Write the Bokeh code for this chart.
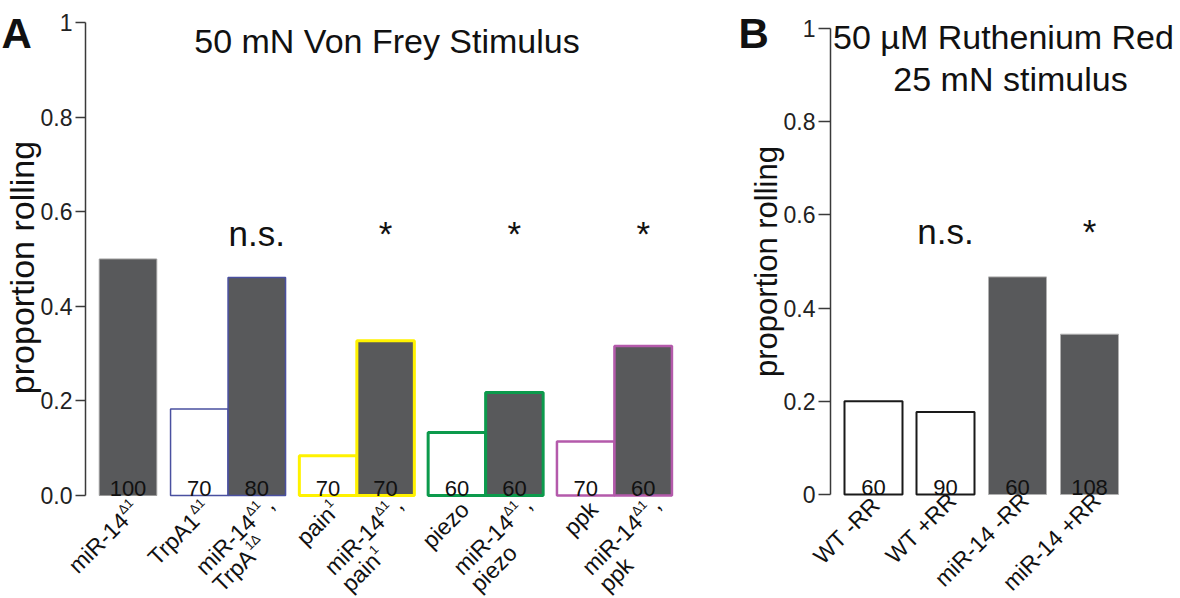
import math
from bokeh.plotting import figure
from bokeh.layouts import row
from bokeh.models import Range1d, FixedTicker, Label, LinearAxis
from bokeh.embed import file_html
from bokeh.resources import INLINE
from bokeh.core.properties import value

FONT = "Liberation Sans"
DARK = "#58595b"
INK = "#111111"

# ---------------- Panel A data ----------------
a_groups = [1, 2, 2, 2, 2]
a_values = [0.500, 0.183, 0.461, 0.084, 0.327, 0.133, 0.218, 0.114, 0.316]
a_counts = ["100", "70", "80", "70", "70", "60", "60", "70", "60"]
a_sig = ["", "", "n.s.", "", "*", "", "*", "", "*"]
# label lines: list of (text, is_superscript)
a_labels = [
    [[("miR-14", 0), ("Δ1", 1)]],
    [[("TrpA1", 0), ("Δ1", 1)]],
    [[("miR-14", 0), ("Δ1", 1), (",", 0)], [("TrpA", 0), ("1Δ", 1)]],
    [[("pain", 0), ("1", 1)]],
    [[("miR-14", 0), ("Δ1", 1), (",", 0)], [("pain", 0), ("1", 1)]],
    [[("piezo", 0)]],
    [[("miR-14", 0), ("Δ1", 1), (",", 0)], [("piezo", 0)]],
    [[("ppk", 0)]],
    [[("miR-14", 0), ("Δ1", 1), (",", 0)], [("ppk", 0)]],
]
a_title = "50 mN Von Frey Stimulus"
y_title = "proportion rolling"

# styles (panel A)
a_fill = [DARK, "white", DARK, "white", DARK, "white", DARK, "white", DARK]
a_edge = ["#9a9a9a", "#4a50a0", "#4a50a0", "#fff200", "#fff200",
          "#0c9a4c", "#0c9a4c", "#b45aab", "#b45aab"]
a_edge_w = [1, 1.5, 1.5, 3, 3, 3, 3, 2.5, 2.5]

# ---------------- Panel B data ----------------
b_labels = ["WT  -RR", "WT +RR", "miR-14 -RR", "miR-14 +RR"]
b_values = [0.200, 0.177, 0.467, 0.344]
b_counts = ["60", "90", "60", "108"]
b_sig = ["", "n.s.", "", "*"]
b_title1 = "50 µM Ruthenium Red"
b_title2 = "25 mN stimulus"

b_fill = ["white", "white", DARK, DARK]
b_edge = ["#1a1a1a", "#1a1a1a", "#b0b0b0", "#b0b0b0"]
b_edge_w = [2, 2, 1, 1]

# ---------------- layout constants (pixels) ----------------
H = 598
A_W, B_W = 735, 445
A_PXX, A_PXY = 57.5, 473.0     # px per data unit
B_PXX, B_PXY = 72.0, 466.0
A_BAR0, A_ZERO, A_AXIS = 127.5, 495.0, 85.0   # first bar centre x, zero line y, axis x
B_BAR0, B_ZERO, B_AXIS = 138.0, 494.0, 95.0
GROUP_GAP = 0.24
K_BASE = 0.40   # baseline correction (em) for horizontal / vertical text
K_ROT = 0.0     # baseline correction (em) for 45-degree text

# Arial / Liberation Sans advance widths (em)
CW = {"m": .833, "i": .222, "R": .722, "-": .333, "1": .556, "4": .556,
      "Δ": .668, ",": .278, "T": .611, "r": .333, "p": .556, "A": .667,
      "a": .556, "n": .556, "e": .556, "z": .5, "o": .556, "k": .5, " ": .278}
MAIN_FS, SUP_FS = 23, 13
TEXT_FS = 22
C45 = math.cos(math.pi / 4)
TH = math.pi / 4


def tw(s, fs):
    return sum(CW.get(ch, 0.556) for ch in s) * fs


def fix(bx, by, theta, fs, k=K_BASE):
    """screen baseline point -> anchor point (screen px, y down)."""
    return bx - math.sin(theta) * k * fs, by - math.cos(theta) * k * fs


def make_fig(w, bar0, zero, pxx, pxy):
    x0 = -bar0 / pxx
    y1 = zero / pxy
    return figure(width=w, height=H, x_axis_type=None, y_axis_type=None,
                  output_backend="svg", toolbar_location=None,
                  x_range=Range1d(x0, x0 + w / pxx),
                  y_range=Range1d(y1 - H / pxy, y1),
                  min_border_left=0, min_border_right=0, min_border_top=0,
                  min_border_bottom=0, background_fill_color="white",
                  border_fill_color="white", outline_line_color=None)


def add_axis(p, loc, tick_out, overrides):
    ax = LinearAxis(fixed_location=loc)
    ax.ticker = FixedTicker(ticks=[0, 0.2, 0.4, 0.6, 0.8, 1.0])
    ax.bounds = (0, 1)
    ax.major_label_overrides = overrides
    ax.axis_line_color = "#3a3a3a"
    ax.axis_line_width = 1.5
    ax.major_tick_line_color = "#3a3a3a"
    ax.major_tick_line_width = 1.5
    ax.major_tick_in = 0
    ax.major_tick_out = tick_out
    ax.minor_tick_line_color = None
    ax.major_label_text_font = FONT
    ax.major_label_text_font_size = "23px"
    ax.major_label_text_color = "#222222"
    ax.major_label_standoff = 3
    p.add_layout(ax, "left")


def label(p, sx, sy, text, fs, bar0, zero, pxx, pxy, theta=0.0, align="center",
          bold=False):
    ax_, ay_ = fix(sx, sy, theta, fs)
    p.add_layout(Label(x=(ax_ - bar0) / pxx, y=(zero - ay_) / pxy, text=text,
                       angle=theta, text_align=align, text_baseline="alphabetic",
                       text_font=FONT, text_font_size=f"{fs}px",
                       text_font_style="bold" if bold else "normal",
                       text_color=INK))


# ================= Panel A =================
a_pos = []
x = 0.0
for gi, n in enumerate(a_groups):
    if gi > 0:
        x += GROUP_GAP
    for _ in range(n):
        a_pos.append(x)
        x += 1.0

pA = make_fig(A_W, A_BAR0, A_ZERO, A_PXX, A_PXY)
add_axis(pA, (A_AXIS - A_BAR0) / A_PXX, 10, {0: "0.0", 1: "1"})

pA.vbar(x=a_pos, top=a_values, bottom=0, width=1.0, fill_color=a_fill,
        line_color=a_edge, line_width=a_edge_w)

cnt_dy = (K_BASE * TEXT_FS - 1.5) / A_PXY
pA.text(x=a_pos, y=[cnt_dy] * len(a_pos), text=a_counts, text_align="center",
        text_baseline="alphabetic", text_font=value(FONT), text_font_size=f"{TEXT_FS}px",
        text_color=INK)
sig_y = (A_ZERO - 247 + K_BASE * 35) / A_PXY
pA.text(x=a_pos, y=[sig_y] * len(a_pos), text=a_sig, text_align="center",
        text_baseline="alphabetic", text_font=value(FONT), text_font_size="35px",
        text_color=INK)

mx, my, mt, sx, sy, st = [], [], [], [], [], []
for i, lines in enumerate(a_labels):
    two = len(lines) > 1
    ex, ey = (13.0, 5.0) if two else (8.0, 10.0)
    w1 = sum(tw(t, SUP_FS if s else MAIN_FS) + (3 if t == "," else 0)
             for t, s in lines[0])
    cx = A_BAR0 + a_pos[i] * A_PXX
    lx0, ly0 = cx + ex - C45 * w1, A_ZERO + ey + C45 * w1
    for k, line in enumerate(lines):
        lx, ly = lx0 + C45 * 24 * k, ly0 + C45 * 24 * k
        cum = 0.0
        for t, s in line:
            fs = SUP_FS if s else MAIN_FS
            if t == ",":
                cum += 3
            bx, by = lx + C45 * cum, ly - C45 * cum
            if s:
                bx, by = bx - C45 * 7, by - C45 * 7
            qx, qy = fix(bx, by, TH, fs, K_ROT)
            dx, dy = (qx - A_BAR0) / A_PXX, (A_ZERO - qy) / A_PXY
            if s:
                sx.append(dx); sy.append(dy); st.append(t)
            else:
                mx.append(dx); my.append(dy); mt.append(t)
            cum += tw(t, fs)

pA.text(x=mx, y=my, text=mt, angle=TH, text_align="left",
        text_baseline="alphabetic", text_font=value(FONT),
        text_font_size=f"{MAIN_FS}px", text_color=INK)
pA.text(x=sx, y=sy, text=st, angle=TH, text_align="left",
        text_baseline="alphabetic", text_font=value(FONT),
        text_font_size=f"{SUP_FS}px", text_color=INK)

argsA = (A_BAR0, A_ZERO, A_PXX, A_PXY)
label(pA, 386.5, 54, a_title, 34, *argsA)
label(pA, 1, 50, "A", 42, *argsA, align="left", bold=True)
label(pA, 35, 267, y_title, 34, *argsA, theta=math.pi / 2)

# ================= Panel B =================
b_pos = [float(i) for i in range(len(b_values))]
pB = make_fig(B_W, B_BAR0, B_ZERO, B_PXX, B_PXY)
add_axis(pB, (B_AXIS - B_BAR0) / B_PXX, 12, {0: "0", 1: "1"})

pB.vbar(x=b_pos, top=b_values, bottom=0, width=58 / 72, fill_color=b_fill,
        line_color=b_edge, line_width=b_edge_w)
cnt_dyB = (K_BASE * TEXT_FS - 1.5) / B_PXY
pB.text(x=b_pos, y=[cnt_dyB] * len(b_pos), text=b_counts, text_align="center",
        text_baseline="alphabetic", text_font=value(FONT), text_font_size=f"{TEXT_FS}px",
        text_color=INK)
sig_yB = (B_ZERO - 245 + K_BASE * 35) / B_PXY
pB.text(x=b_pos, y=[sig_yB] * len(b_pos), text=b_sig, text_align="center",
        text_baseline="alphabetic", text_font=value(FONT), text_font_size="35px",
        text_color=INK)
bqx, bqy = fix(7.0, B_ZERO + 2.0, TH, MAIN_FS, K_ROT)
pB.text(x=[p_ + bqx / B_PXX for p_ in b_pos], y=[(B_ZERO - bqy) / B_PXY] * len(b_pos),
        text=b_labels, angle=TH, text_align="right", text_baseline="alphabetic",
        text_font=value(FONT), text_font_size=f"{MAIN_FS}px", text_color=INK)

argsB = (B_BAR0, B_ZERO, B_PXX, B_PXY)
label(pB, 268, 50, b_title1, 34, *argsB)
label(pB, 275, 92, b_title2, 34, *argsB)
label(pB, 3, 50, "B", 42, *argsB, align="left", bold=True)
label(pB, 43, 261, y_title, 31, *argsB, theta=math.pi / 2)

layout = row(pA, pB)
open("out.html", "w").write(file_html(layout, INLINE))
